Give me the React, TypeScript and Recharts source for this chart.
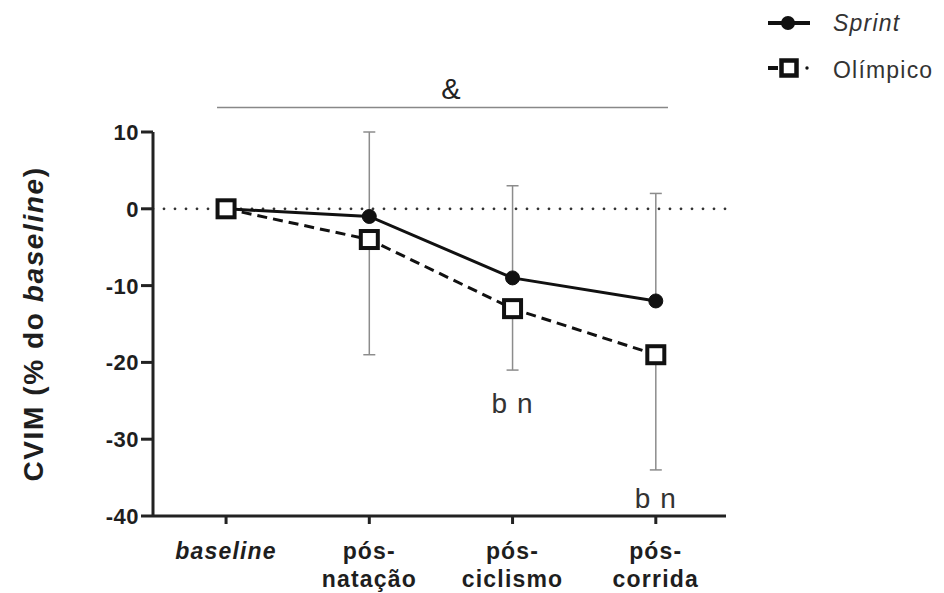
import { LineChart, Line, XAxis, YAxis, ErrorBar, ReferenceLine, ReferenceDot, Legend } from "recharts"

const FONT = '"Liberation Sans", Arial, sans-serif'

const categories = ["baseline", "pós-natação", "pós-ciclismo", "pós-corrida"]
const sprint = [0, -1, -9, -12]
const sprintErrUp = [0, 11, 12, 14]
const olimpico = [0, -4, -13, -19]
const olimpicoErrDown = [0, 15, 8, 15]
const yTicks = [10, 0, -10, -20, -30, -40]
// significance marks under the Olímpico points
const sigLabels = [
  { x: 2, y: -26.6, text: "b n" },
  { x: 3, y: -39, text: "b n" },
]
// "&" bracket over the whole time course
const groupMark = { x1: -0.063, x2: 3.085, y: 13.2, textX: 1.57, textY: 14.3, text: "&" }

const data = categories.map((name, i) => ({
  idx: i,
  name,
  sprint: sprint[i],
  sprintErr: [0, sprintErrUp[i]],
  olimpico: olimpico[i],
  olimpicoErr: [olimpicoErrDown[i], 0],
}))

function XTick({ x, y, payload }: any) {
  const name = categories[payload.value]
  if (!name) return null
  const cut = name.indexOf("-")
  const parts = cut >= 0 ? [name.slice(0, cut + 1), name.slice(cut + 1)] : [name]
  return (
    <text
      x={x}
      y={y}
      textAnchor="middle"
      fontFamily={FONT}
      fontSize={23}
      fontWeight="bold"
      fontStyle={cut < 0 ? "italic" : "normal"}
      fill="#1e1e1e"
      letterSpacing={1.2}
    >
      {parts.map((p, i) => (
        <tspan key={i} x={x} dy={i === 0 ? 33 : 28}>
          {p}
        </tspan>
      ))}
    </text>
  )
}

function YTick({ x, y, payload }: any) {
  return (
    <text x={x} y={y} dy={8} textAnchor="end" fontFamily={FONT} fontSize={22} fontWeight="bold" fill="#1e1e1e" letterSpacing={0.5}>
      {payload.value}
    </text>
  )
}

function YLabel({ viewBox }: any) {
  const cy = viewBox.y + viewBox.height / 2
  const cx = 33
  return (
    <text
      x={cx}
      y={cy}
      transform={`rotate(-90, ${cx}, ${cy})`}
      textAnchor="middle"
      dominantBaseline="central"
      fontFamily={FONT}
      fontSize={28}
      fontWeight="bold"
      fill="#1e1e1e"
      letterSpacing={1.6}
    >
      {"CVIM (% do "}
      <tspan fontStyle="italic">baseline</tspan>
      {")"}
    </text>
  )
}

function SquareDot({ cx, cy }: any) {
  if (cx == null || cy == null) return null
  return <rect x={cx - 8.5} y={cy - 8.5} width={17} height={17} fill="#fff" stroke="#111" strokeWidth={4} />
}

function LegendBox() {
  const txt = { fontFamily: FONT, fontSize: 23, fill: "#333", letterSpacing: 1.2 }
  return (
    <svg width={184} height={95}>
      <line x1={8} x2={50} y1={23} y2={23} stroke="#111" strokeWidth={4} />
      <circle cx={28} cy={23} r={7} fill="#111" />
      <text x={73} y={31} fontStyle="italic" {...txt}>
        Sprint
      </text>
      <line x1={8} x2={18} y1={68} y2={68} stroke="#111" strokeWidth={4} />
      <rect x={21.5} y={60.5} width={15} height={15} fill="#fff" stroke="#111" strokeWidth={4.5} />
      <circle cx={47} cy={68} r={1.7} fill="#111" />
      <text x={73} y={78} {...txt}>
        Olímpico
      </text>
    </svg>
  )
}

export default function App() {
  return (
    <div style={{ position: "absolute", left: 0, top: 0, background: "#fff" }}>
      <LineChart width={944} height={593} data={data} margin={{ top: 132, right: 218, bottom: 7, left: 0 }}>
        <ReferenceLine y={0} stroke="#333" strokeWidth={2.8} strokeDasharray="0 11" strokeLinecap="round" />
        <ReferenceLine
          segment={[
            { x: groupMark.x1, y: groupMark.y },
            { x: groupMark.x2, y: groupMark.y },
          ]}
          stroke="#888"
          strokeWidth={1.5}
          ifOverflow="visible"
        />
        <ReferenceDot
          x={groupMark.textX}
          y={groupMark.textY}
          ifOverflow="visible"
          shape={(p: any) => (
            <text x={p.cx} y={p.cy} textAnchor="middle" fontFamily={FONT} fontSize={29} fill="#222">
              {groupMark.text}
            </text>
          )}
        />
        {sigLabels.map((s, i) => (
          <ReferenceDot
            key={i}
            x={s.x}
            y={s.y}
            ifOverflow="visible"
            shape={(p: any) => (
              <text x={p.cx} y={p.cy} textAnchor="middle" fontFamily={FONT} fontSize={28} fill="#333" letterSpacing={1}>
                {s.text}
              </text>
            )}
          />
        ))}
        <XAxis
          type="number"
          dataKey="idx"
          domain={[-0.51, 3.49]}
          allowDataOverflow
          ticks={[0, 1, 2, 3]}
          interval={0}
          height={70}
          tickSize={8}
          tickMargin={2}
          tick={<XTick />}
          axisLine={{ stroke: "#222", strokeWidth: 3 }}
          tickLine={{ stroke: "#222", strokeWidth: 3 }}
        />
        <YAxis
          type="number"
          domain={[-40, 10]}
          allowDataOverflow
          ticks={yTicks}
          interval={0}
          width={153}
          tickSize={12}
          tickMargin={2}
          tick={<YTick />}
          axisLine={{ stroke: "#222", strokeWidth: 3 }}
          tickLine={{ stroke: "#222", strokeWidth: 3 }}
          label={<YLabel />}
        />
        <Legend
          layout="vertical"
          align="center"
          verticalAlign="middle"
          content={<LegendBox />}
          wrapperStyle={{ left: 760, top: 0, width: 184, height: 95 }}
        />
        <Line
          dataKey="sprint"
          name="Sprint"
          stroke="#111"
          strokeWidth={3}
          dot={{ r: 7, fill: "#111", stroke: "#111", strokeWidth: 1 }}
          isAnimationActive={false}
        >
          <ErrorBar dataKey="sprintErr" direction="y" width={6} stroke="#8c8c8c" strokeWidth={1.5} />
        </Line>
        <Line
          dataKey="olimpico"
          name="Olímpico"
          stroke="#111"
          strokeWidth={3}
          strokeDasharray="10 6"
          dot={<SquareDot />}
          isAnimationActive={false}
        >
          <ErrorBar dataKey="olimpicoErr" direction="y" width={6} stroke="#8c8c8c" strokeWidth={1.5} />
        </Line>
      </LineChart>
    </div>
  )
}
